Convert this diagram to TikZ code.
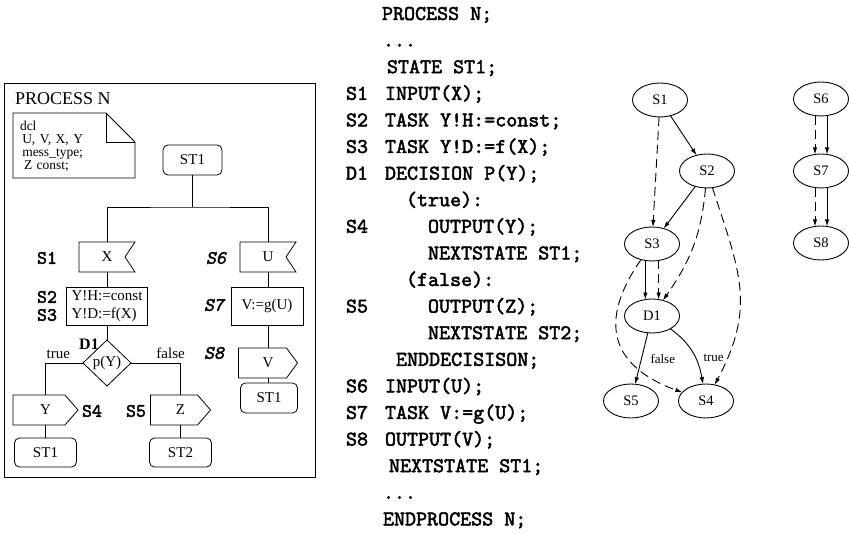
\documentclass[tikz,border=0pt]{standalone}
\usepackage{fontspec}
\setmainfont{Liberation Serif}
\newfontfamily\cmono{lmmono10-regular.otf}[FakeBold=2.2]
\newfontfamily\cmonosl{lmmono10-regular.otf}[FakeBold=2.2, FakeSlant=0.2]
\usetikzlibrary{arrows.meta,shapes.geometric}

% fonts: SDL-PR listing, statement labels, flowchart text
\newcommand\cfont{\cmono\fontsize{21}{26}\selectfont}
\newcommand\lfont{\cmono\fontsize{19}{19}\selectfont}
\newcommand\lsfont{\cmonosl\fontsize{19}{19}\selectfont}
\newcommand\bfont{\fontsize{15}{18}\selectfont}

\tikzset{
  every node/.style={inner sep=0pt, outer sep=0pt},
  fc/.style={draw, line width=0.8pt},
  stbox/.style={fc, rounded corners=5pt, minimum width=60pt, minimum height=30pt, font=\bfont},
  taskbox/.style={fc, minimum height=38pt, font=\bfont, align=left},
  sym/.style={minimum height=30pt, font=\bfont},
  lab/.style={font=\lfont},
  slab/.style={font=\lsfont},
  code/.style={anchor=base west, font=\cfont},
  gnode/.style={draw, ellipse, line width=0.9pt, minimum width=55pt, minimum height=34pt,
                font=\fontsize{14.5}{16}\selectfont},
  dep/.style={-{Latex[length=7pt,width=4.5pt]}, line width=0.9pt},
  dat/.style={dep, dash pattern=on 9pt off 5pt},
  elab/.style={font=\fontsize{13}{15}\selectfont},
}

\begin{document}
\begin{tikzpicture}[x=1pt, y=-1pt]
\useasboundingbox (0,0) rectangle (849,534);

% ---------------- SDL-GR process diagram ----------------
\node[draw, line width=1pt, minimum width=311pt, minimum height=393pt] (frame) at (159.5,280.5) {};
\node[anchor=west, font=\fontsize{18}{20}\selectfont] (title) at (15,99) {PROCESS N};

% text symbol with folded corner
\node[minimum width=122pt, minimum height=65pt, text width=108pt, inner xsep=7pt, align=left,
      font=\fontsize{13.5}{13}\selectfont] (dcl) at (74,146.5)
  {dcl\\\,U, V, X, Y\\\,mess\_type;\\\hspace{4pt}Z const;};
\draw[fc] ([yshift=1pt]dcl.north west) -- ([xshift=-29pt,yshift=1pt]dcl.north east)
          -- ([yshift=-28pt]dcl.north east)
          -- ([yshift=1pt]dcl.south east) -- ([yshift=1pt]dcl.south west) -- cycle;
\draw[fc] ([xshift=-29pt,yshift=1pt]dcl.north east) |- ([yshift=-28pt]dcl.north east);

% start state
\node[stbox, minimum width=59pt] (st0) at (192.5,160) {ST1};
\coordinate (br) at (192.5,207);

% left transition: input X
\node[sym, minimum width=56pt] (in1) at (107,257) {X};
\draw[fc] (in1.north west) -- (in1.north east) -- ([xshift=-10pt]in1.east)
          -- (in1.south east) -- (in1.south west) -- cycle;
\node[taskbox, minimum width=81pt, inner xsep=4pt] (t1) at (107,306) {Y!H:=const\\Y!D:=f(X)};
\node[fc, diamond, minimum width=48pt, minimum height=46pt, font=\bfont] (d1) at (107,363) {p(Y)};

% true branch
\node[sym, minimum width=65pt] (out4) at (45.5,410) {Y};
\draw[fc] (out4.north west) -- ([xshift=-13pt]out4.north east) -- (out4.east)
          -- ([xshift=-13pt]out4.south east) -- (out4.south west) -- cycle;
\node[stbox, minimum width=62pt, minimum height=29pt] (st4) at (45.5,452.5) {ST1};

% false branch
\node[sym, minimum width=60pt] (out5) at (180.5,410) {Z};
\draw[fc] (out5.north west) -- ([xshift=-13pt]out5.north east) -- (out5.east)
          -- ([xshift=-13pt]out5.south east) -- (out5.south west) -- cycle;
\node[stbox, minimum width=62pt, minimum height=29pt] (st5) at (180.5,452.5) {ST2};

% right transition: input U
\node[sym, minimum width=56pt] (in6) at (268,257) {U};
\draw[fc] (in6.north west) -- (in6.north east) -- ([xshift=-10pt]in6.east)
          -- (in6.south east) -- (in6.south west) -- cycle;
\node[taskbox, minimum width=72pt] (t6) at (267,306) {V:=g(U)};
\node[sym, minimum width=59pt] (out8) at (268,363) {V};
\draw[fc] (out8.north west) -- ([xshift=-11pt]out8.north east) -- (out8.east)
          -- ([xshift=-11pt]out8.south east) -- (out8.south west) -- cycle;
\node[stbox, minimum width=57pt] (st8) at (269,398) {ST1};

% flow lines
\draw[fc] (st0.south) -- (br);
\draw[fc] (in1.north) |- (br) -| (in6.north);
\draw[fc] (in1.south) -- (t1.north);
\draw[fc] (t1.south) -- (d1.north);
\draw[fc] (d1.west) -| node[pos=0.33, above=4pt, font=\bfont] (tl) {true} (out4.north);
\draw[fc] (d1.east) -| node[pos=0.40, above=4pt, font=\bfont] (fl) {false} (out5.north);
\draw[fc] (out4.south) -- (st4.north);
\draw[fc] (out5.south) -- (st5.north);
\draw[fc] (in6.south) -- (in6.south |- t6.north);
\draw[fc] (t6.south -| out8.north) -- (out8.north);
\draw[fc] (out8.south) -- (out8.south |- st8.north);

% statement labels
\node[lab] (ls1) at (47,258) {S1};
\node[lab] (ls2) at (47,297) {S2};
\node[lab] (ls3) at (47,315) {S3};
\node[font=\fontsize{16}{16}\selectfont\bfseries] (ld1) at (89,344) {D1};
\node[lab] (ls4) at (92,411) {S4};
\node[lab] (ls5) at (136,411) {S5};
\node[slab] (ls6) at (216,258) {S6};
\node[slab] (ls7) at (214,305) {S7};
\node[slab] (ls8) at (214,353) {S8};

% ---------------- SDL-PR listing ----------------
\node[code] (c0)  at (382,20)    {PROCESS N;};
\node[code] (c1)  at (383,46.6)  {...};
\node[code] (c2)  at (387,73.2)  {STATE ST1;};
\node[code] (c3)  at (385,99.8)  {INPUT(X);};
\node[code] (c4)  at (385,126.4) {TASK Y!H:=const;};
\node[code] (c5)  at (385,153)   {TASK Y!D:=f(X);};
\node[code] (c6)  at (385,179.6) {DECISION P(Y);};
\node[code] (c7)  at (406,206.2) {(true):};
\node[code] (c8)  at (428,232.8) {OUTPUT(Y);};
\node[code] (c9)  at (428,259.4) {NEXTSTATE ST1;};
\node[code] (c10) at (406,286)   {(false):};
\node[code] (c11) at (428,312.6) {OUTPUT(Z);};
\node[code] (c12) at (428,339.2) {NEXTSTATE ST2;};
\node[code] (c13) at (396,365.8) {ENDDECISISON;};
\node[code] (c14) at (385,392.4) {INPUT(U);};
\node[code] (c15) at (385,419)   {TASK V:=g(U);};
\node[code] (c16) at (385,445.6) {OUTPUT(V);};
\node[code] (c17) at (389,472.2) {NEXTSTATE ST1;};
\node[code] (c18) at (383,498.8) {...};
\node[code] (c19) at (383,525.4) {ENDPROCESS N;};

\node[code] (k3)  at (346,99.8)  {S1};
\node[code] (k4)  at (346,126.4) {S2};
\node[code] (k5)  at (346,153)   {S3};
\node[code] (k6)  at (346,179.6) {D1};
\node[code] (k8)  at (346,232.8) {S4};
\node[code] (k11) at (346,312.6) {S5};
\node[code] (k14) at (346,392.4) {S6};
\node[code] (k15) at (346,419)   {S7};
\node[code] (k16) at (346,445.6) {S8};

% ---------------- dependence graph ----------------
\node[gnode] (g1) at (660,100) {S1};
\node[gnode] (g2) at (707,171) {S2};
\node[gnode] (g3) at (652,244) {S3};
\node[gnode] (gd) at (652,316) {D1};
\node[gnode] (g5) at (631,401) {S5};
\node[gnode] (g4) at (706,401) {S4};
\node[gnode] (g6) at (821,99)  {S6};
\node[gnode] (g7) at (821,171) {S7};
\node[gnode] (g8) at (821,243) {S8};

\draw[dep] (g1) -- (g2);
\draw[dat] (g1) -- (g3);
\draw[dep] (g2) -- (g3);
\draw[dat] (g2) to[out=-95, in=55] (gd);
\draw[dat] (g2) to[out=-72, in=62, looseness=1.15] (g4);
\draw[dep] (g3.-112) -- (gd.112);
\draw[dat] (g3.-68) -- (gd.68);
\draw[dat] (g3) to[out=-125, in=160, looseness=1.4] (g4);
\draw[dep] (gd) -- node[elab, right=9pt] (fe) {false} (g5);
\draw[dep] (gd) to[out=-35, in=100] node[elab, pos=0.6, right=8pt] (te) {true} (g4);

\draw[dat] (g6.-110) -- (g7.110);
\draw[dep] (g6.-70)  -- (g7.70);
\draw[dat] (g7.-110) -- (g8.110);
\draw[dep] (g7.-70)  -- (g8.70);
\end{tikzpicture}
\end{document}
